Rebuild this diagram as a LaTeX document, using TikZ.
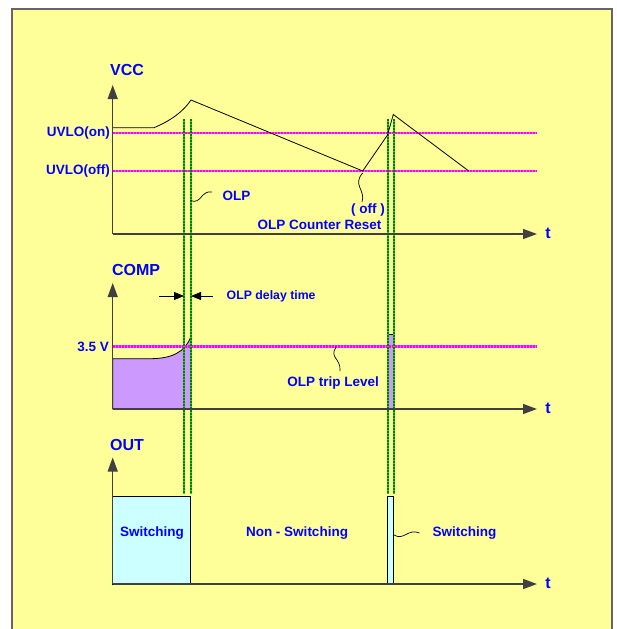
\documentclass[tikz,border=0pt]{standalone}
\usepackage{fontspec}
\setmainfont{Liberation Sans}
\usetikzlibrary{arrows.meta, positioning, calc}
\definecolor{bgyel}{HTML}{FFFF99}
\definecolor{fillpur}{HTML}{CC99FF}
\definecolor{fillcy}{HTML}{CCFFFF}
\definecolor{txtblue}{HTML}{0000FF}
\definecolor{grnd}{HTML}{008000}
\definecolor{grnl}{HTML}{33CC33}
\definecolor{mag}{HTML}{FF00FF}
\definecolor{magl}{HTML}{FF66FF}

\begin{document}
\begin{tikzpicture}[x=1pt, y=-1pt,
	lbl/.style={text=txtblue, font=\bfseries\fontsize{13.5}{14}\selectfont, inner sep=0pt},
	head/.style={text=txtblue, font=\bfseries\fontsize{16}{17}\selectfont, inner sep=0pt},
	axis/.style={draw=black!75, line width=1.4pt, -{Triangle[length=14pt,width=10pt]}},
	lvl/.style={draw=magl, line width=2.6pt},
	lvld/.style={draw=mag, line width=2.6pt, dash pattern=on 2pt off 1pt},
	olp/.style={draw=grnl, line width=2pt},
	olpd/.style={draw=grnd, line width=2pt, dash pattern=on 1.5pt off 1.5pt},
	wave/.style={draw=black, line width=0.8pt},
	sq/.style={draw=black, line width=0.7pt}]
	\useasboundingbox (0,0) rectangle (617,629);
	\draw[fill=bgyel, draw=black!60, line width=1.5pt] (12,9) rectangle (612,640);

	% axes origins
	\coordinate (o1) at (112.7,234);
	\coordinate (o2) at (112.7,409);
	\coordinate (o3) at (112.7,584);

	% fills
	\draw[fill=fillpur, line width=0.8pt] (o2) -- (112.7,358.7) -- (150,358.7) .. controls (172,358.7) and (185,352) .. (190.7,337) -- (190.7,409) -- cycle;
	\draw[fill=fillpur, line width=0.8pt] (387.7,334) rectangle (393.7,409);
	\draw[fill=fillcy, line width=0.8pt] (112.7,496) rectangle (190.7,584);
	\draw[fill=fillcy, line width=0.8pt] (387.7,496) rectangle (393.7,584);

	% levels
	\foreach \yy in {133,171,346.5} {
		\draw[lvl] (112.7,\yy) -- (537,\yy);
		\draw[lvld] (112.7,\yy) -- (537,\yy);
	}

	% olp marks
	\foreach \xx in {184.3,190.7,387.7,394} {
		\draw[olp] (\xx,119) -- (\xx,494);
		\draw[olpd] (\xx,119) -- (\xx,494);
	}

	% vcc waveform
	\draw[wave] (112.7,127.7) -- (154,127.7) .. controls (170,121) and (183,112) .. (191,100) -- (362.7,171) -- (387.5,135) -- (393.3,114.5) -- (468.7,171);

	% axes
	\draw[axis] (o1) -- (112.7,85);
	\draw[axis] (o1) -- (537,234);
	\draw[axis] (o2) -- (112.7,283);
	\draw[axis] (o2) -- (537,409);
	\draw[axis] (o3) -- (112.7,457.5);
	\draw[axis] (o3) -- (537,584);

	% labels
	\node[head] (vcc) at (127,70) {VCC};
	\node[head] (comp) at (136,270) {COMP};
	\node[head] (out) at (127,445) {OUT};
	\node[head] (t1) at (548,233) {t};
	\node[head] (t2) at (548,408) {t};
	\node[head] (t3) at (548,583) {t};
	\node[lbl, anchor=east] (uvon) at (110,133.5) {UVLO(on)};
	\node[lbl, anchor=east] (uvoff) at (110,171.5) {UVLO(off)};
	\node[lbl, anchor=east] (v35) at (109,346.5) {3.5 V};
	\node[lbl] (olpl) at (236.5,196) {OLP};
	\node[lbl] (off) at (368,210) {( off )};
	\node[lbl, anchor=east] (rst) at (381.7,225) {OLP Counter Reset};
	\node[lbl, anchor=east] (trip) at (379,383) {OLP trip Level};
	\node[lbl, anchor=west, font=\bfseries\fontsize{12.3}{13}\selectfont] (dly) at (226.5,296) {OLP delay time};
	\node[lbl] (sw1) at (152,533) {Switching};
	\node[lbl] (nsw) at (297,533) {Non - Switching};
	\node[lbl] (sw2) at (464.5,533) {Switching};

	% pointers
	\draw[sq] (190.5,200.5) .. controls (201,205) and (201,190) .. (212,192);
	\draw[sq] (362.7,173) .. controls (352,185) and (366,190) .. (362,202);
	\draw[sq] (336,347) .. controls (329,358) and (341,358) .. (340,371);
	\draw[sq] (394,535) .. controls (404,541) and (408,528) .. (419.5,533);
	\draw[-{Triangle[length=10pt,width=8pt]}, line width=0.8pt] (159,296) -- (184,296);
	\draw[-{Triangle[length=10pt,width=8pt]}, line width=0.8pt] (212.7,296) -- (191,296);
\end{tikzpicture}
\end{document}
